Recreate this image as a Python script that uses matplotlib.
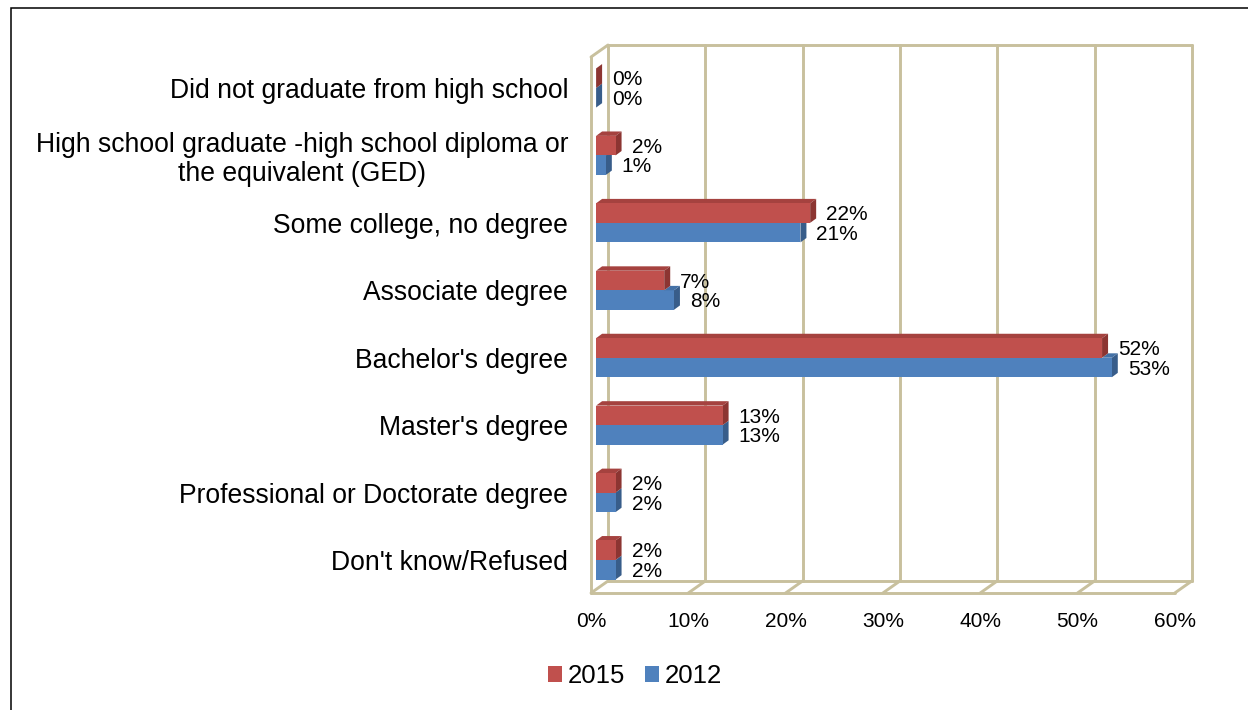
import matplotlib
matplotlib.use("Agg")
import matplotlib.pyplot as plt
from matplotlib.patches import Polygon, Rectangle, Patch

plt.rcParams["font.family"] = ["Liberation Sans", "DejaVu Sans"]

# ---- data -------------------------------------------------------------
categories = [
    "Did not graduate from high school",
    "High school graduate -high school diploma or\nthe equivalent (GED)",
    "Some college, no degree",
    "Associate degree",
    "Bachelor's degree",
    "Master's degree",
    "Professional or Doctorate degree",
    "Don't know/Refused",
]
values_2015 = [0, 2, 22, 7, 52, 13, 2, 2]
values_2012 = [0, 1, 21, 8, 53, 13, 2, 2]
series_names = ["2015", "2012"]
x_ticks = [0, 10, 20, 30, 40, 50, 60]

# ---- styling ----------------------------------------------------------
RED_FRONT, RED_TOP, RED_SIDE = "#C0504D", "#A5423F", "#8C3532"
BLUE_FRONT, BLUE_TOP, BLUE_SIDE = "#4F81BD", "#4471A6", "#385D8A"
GRID = "#C8C09D"

W, H, DPI = 1248, 710, 100
fig = plt.figure(figsize=(W / DPI, H / DPI), dpi=DPI)

# axes box is the front plane of the 3D frame (pixel geometry)
L, R, T, B = 591, 1174.8, 57, 593
ax = fig.add_axes([L / W, 1 - B / H, (R - L) / W, (B - T) / H])
XMAX = x_ticks[-1]
Y0, Y1 = -0.513, 7.436
ax.set_xlim(0, XMAX)
ax.set_ylim(Y1, Y0)
for s in ax.spines.values():
    s.set_visible(False)

px_x = (R - L) / XMAX
px_y = (B - T) / (Y1 - Y0)


def shift(x, y, dx_px, dy_px):
    """Move a data point by a screen offset in pixels (right, up)."""
    return x + dx_px / px_x, y - dy_px / px_y


WALL_DX, WALL_DY = 17, 12          # depth of the frame
BAR_DX, BAR_DY = 5.1, 3.6          # front plane of the bars
BAR_DEPTH_X, BAR_DEPTH_Y = 6.0, 4.4  # thickness of the bars

line_kw = dict(color=GRID, lw=2.1, solid_capstyle="round", clip_on=False, zorder=1)

# back wall gridlines and edges
for xv in x_ticks:
    (xa, ya), (xb, yb) = shift(xv, Y0, WALL_DX, WALL_DY), shift(xv, Y1, WALL_DX, WALL_DY)
    ax.plot([xa, xb], [ya, yb], **line_kw)
    # floor diagonals
    ax.plot([xv, xb], [Y1, yb], **line_kw)
for yv in (Y0, Y1):
    (xa, ya), (xb, yb) = shift(0, yv, WALL_DX, WALL_DY), shift(XMAX, yv, WALL_DX, WALL_DY)
    ax.plot([xa, xb], [ya, yb], **line_kw)
# floor front edge
ax.plot([0, XMAX], [Y1, Y1], **line_kw)
# left wall front edge and top
ax.plot([0, 0], [Y0, Y1], **line_kw)
xa, ya = shift(0, Y0, WALL_DX, WALL_DY)
ax.plot([0, xa], [Y0, ya], **line_kw)

# ---- bars -------------------------------------------------------------
ox, oy = shift(0, 0, BAR_DX, BAR_DY)
bh = 0.29
ddx, ddy = BAR_DEPTH_X / px_x, BAR_DEPTH_Y / px_y


def side_face(x_end, y_top, y_bot, color):
    pts = [(x_end, y_top), (x_end, y_bot), (x_end + ddx, y_bot - ddy), (x_end + ddx, y_top - ddy)]
    ax.add_patch(Polygon(pts, closed=True, fc=color, ec="none", zorder=3))


def top_face(x_start, x_end, y_top, color):
    pts = [(x_start, y_top), (x_end, y_top), (x_end + ddx, y_top - ddy), (x_start + ddx, y_top - ddy)]
    ax.add_patch(Polygon(pts, closed=True, fc=color, ec="none", zorder=3))


label_kw = dict(textcoords="offset points", ha="left", va="center", fontsize=15, zorder=5)
for i, (v15, v12) in enumerate(zip(values_2015, values_2012)):
    yc = i + oy
    # 2012 (lower bar)
    y_top, y_bot = yc, yc + bh
    side_face(ox + v12, y_top, y_bot, BLUE_SIDE)
    ax.barh(yc + bh / 2, v12, left=ox, height=bh, color=BLUE_FRONT, zorder=3)
    if v12 > v15:
        top_face(ox + v15, ox + v12, y_top, BLUE_TOP)
    # 2015 (upper bar)
    y_top, y_bot = yc - bh, yc
    top_face(ox, ox + v15, y_top, RED_TOP)
    side_face(ox + v15, y_top, y_bot, RED_SIDE)
    ax.barh(yc - bh / 2, v15, left=ox, height=bh, color=RED_FRONT, zorder=4)

    ax.annotate(f"{v15}%", xy=(ox + v15, yc - bh / 2), xytext=(11.5, -1.2), **label_kw)
    ax.annotate(f"{v12}%", xy=(ox + v12, yc + bh / 2), xytext=(11.5, -1.2), **label_kw)

# ---- axes text ----------------------------------------------------------
ax.set_xticks(x_ticks)
ax.set_xticklabels([f"{t}%" for t in x_ticks], fontsize=15)
ax.set_yticks([i + oy for i in range(len(categories))])
ylabels = ax.set_yticklabels(categories, fontsize=19.1)
for lab in ylabels:
    lab.set_multialignment("center")
    lab.set_linespacing(1.12)
ax.tick_params(axis="x", length=0, pad=13.5)
ax.tick_params(axis="y", length=0, pad=16.5)

handles = [Patch(fc=RED_FRONT, ec="none"), Patch(fc=BLUE_FRONT, ec="none")]
fig.legend(handles, series_names, loc="center", bbox_to_anchor=(635 / W, 1 - 676 / H),
           ncol=2, frameon=False, fontsize=18.5, handlelength=0.55, handleheight=0.55,
           handletextpad=0.2, columnspacing=0.8, borderpad=0, borderaxespad=0)

# outer chart border
fig.add_artist(Rectangle((10.5 / W, -0.1), 2, 1.1 - 7.5 / H, transform=fig.transFigure,
                         fill=False, ec="black", lw=1.1))

fig.savefig("out.png", dpi=DPI)
